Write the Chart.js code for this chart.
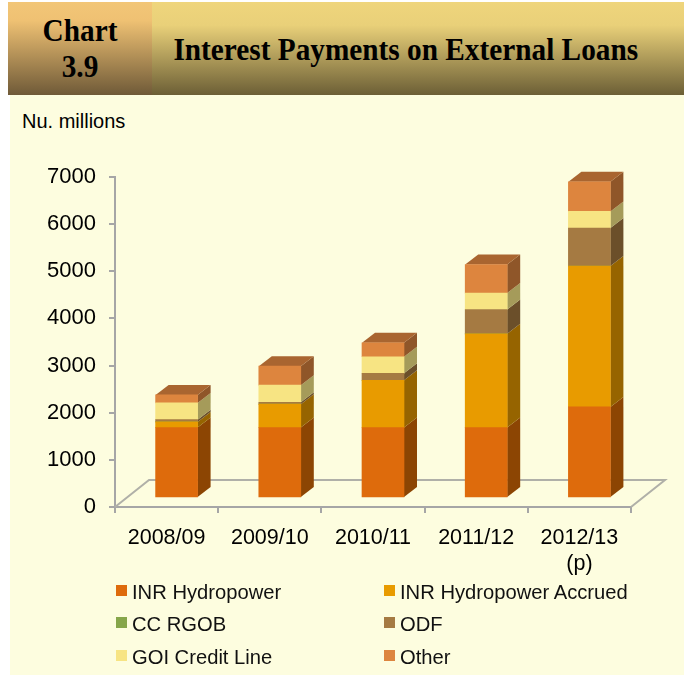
<!DOCTYPE html>
<html>
<head>
<meta charset="utf-8">
<script src="https://cdn.jsdelivr.net/npm/chart.js@4"></script>
<style>
  html, body { margin: 0; padding: 0; background: #fff; }
  #page { position: relative; width: 684px; height: 675px; overflow: hidden; }
  #panel { position: absolute; left: 10px; top: 95px; width: 674px; height: 580px; background: #fdfddf; }
  .head { position: absolute; top: 2px; height: 93px; color: #000; }
  .head span { position: absolute; left: 0; right: 0; text-align: center; font: bold 32px "Liberation Serif", serif; transform: scaleX(.915); white-space: nowrap; }
  #headNum { left: 8px; width: 144px; background: linear-gradient(#f2c677, #efc173 20%, #6f5a38); }
  #headTitle { left: 152px; width: 532px; background: linear-gradient(#efd57c, #e9d079 25%, #6c5f36); }
  #unit { position: absolute; left: 22px; top: 110px; font: 20px "Liberation Sans", sans-serif; color: #000; }
  #plot { position: absolute; left: 0; top: 0; }
  #legend div { position: absolute; font: 20.2px/22px "Liberation Sans", sans-serif; color: #111; white-space: nowrap; }
  #legend i { position: absolute; left: -16px; top: 4px; width: 11px; height: 11px; }
</style>
</head>
<body>
<div id="page">
  <div id="panel"></div>
  <div id="headNum" class="head">
    <span style="top:10px">Chart</span>
    <span style="top:46px">3.9</span>
  </div>
  <div id="headTitle" class="head">
    <span style="top:29px; right:28px">Interest Payments on External Loans</span>
  </div>
  <div id="unit">Nu. millions</div>
  <canvas id="plot" width="684" height="675"></canvas>
  <div id="legend"></div>
</div>
<script>
const categories = ['2008/09', '2009/10', '2010/11', '2011/12', ['2012/13', '(p)']];
const seriesNames = ['INR Hydropower', 'INR Hydropower Accrued', 'CC RGOB', 'ODF', 'GOI Credit Line', 'Other'];
const inrHydropower = [1493, 1493, 1493, 1493, 1932];
const inrAccrued = [121, 497, 1004, 1989, 2987];
const ccRgob = [0, 0, 0, 0, 0];
const odf = [48, 42, 148, 516, 807];
const goiCredit = [355, 361, 352, 348, 353];
const other = [170, 403, 297, 607, 630];
const seriesValues = [inrHydropower, inrAccrued, ccRgob, odf, goiCredit, other];
const yTicks = [0, 1000, 2000, 3000, 4000, 5000, 6000, 7000];

// front, side and top face colours per series
const frontColors = ['#de6b0c', '#e89b00', '#86a64a', '#a57a42', '#f7e483', '#dd853e'];
const sideColors = ['#8c4503', '#966400', '#566b2e', '#6b4f2a', '#a59b5a', '#8f5629'];
const topColor = '#a96530';

const depth = { x: 13, y: 10 };      // bar side/top skew
const floorDepth = { x: 34, y: 27 }; // floor skew
const barShift = { x: 10, y: -9 };   // bars stand in the middle of the floor

function poly(ctx, pts, fill) {
  ctx.beginPath();
  pts.forEach((p, i) => i ? ctx.lineTo(p[0], p[1]) : ctx.moveTo(p[0], p[1]));
  ctx.closePath();
  ctx.fillStyle = fill;
  ctx.fill();
}

const box3d = {
  id: 'box3d',
  beforeDatasetsDraw(chart) {
    const ctx = chart.ctx;
    const x = chart.scales.x, y = chart.scales.y;
    const y0 = y.getPixelForValue(0);

    // floor outline behind the bars
    ctx.save();
    ctx.strokeStyle = '#b0b0a8';
    ctx.lineWidth = 2;
    ctx.beginPath();
    ctx.moveTo(x.left, y0);
    ctx.lineTo(x.left + floorDepth.x, y0 - floorDepth.y);
    ctx.lineTo(x.right + floorDepth.x, y0 - floorDepth.y);
    ctx.lineTo(x.right, y0);
    ctx.stroke();
    ctx.restore();

    ctx.save();
    ctx.translate(barShift.x, barShift.y);
    chart.data.datasets.forEach((ds, d) => {
      chart.getDatasetMeta(d).data.forEach(bar => {
        const r = bar.x + bar.width / 2;
        const top = Math.min(bar.y, bar.base), bottom = Math.max(bar.y, bar.base);
        if (bottom - top < 0.5) return;
        poly(ctx, [[r, bottom], [r + depth.x, bottom - depth.y], [r + depth.x, top - depth.y], [r, top]], sideColors[d]);
      });
    });
    // the last series caps each column
    const last = chart.data.datasets.length - 1;
    chart.getDatasetMeta(last).data.forEach(bar => {
      const l = bar.x - bar.width / 2, r = bar.x + bar.width / 2;
      poly(ctx, [[l, bar.y], [l + depth.x, bar.y - depth.y], [r + depth.x, bar.y - depth.y], [r, bar.y]], topColor);
    });
  },
  afterDatasetsDraw(chart) {
    chart.ctx.restore();
  }
};

new Chart(document.getElementById('plot'), {
  type: 'bar',
  plugins: [box3d],
  data: {
    labels: categories,
    datasets: seriesNames.map((name, i) => ({
      label: name,
      data: seriesValues[i],
      backgroundColor: frontColors[i],
      borderWidth: 0,
      barThickness: 42
    }))
  },
  options: {
    responsive: false,
    animation: false,
    layout: { padding: { top: 177, right: 53, bottom: 0, left: 0 } },
    plugins: { legend: { display: false }, tooltip: { enabled: false } },
    scales: {
      x: {
        stacked: true,
        grid: { drawOnChartArea: false, color: '#a6a6a6', tickLength: 6, lineWidth: 2 },
        border: { color: '#a6a6a6', width: 2 },
        ticks: { color: '#000', font: { family: 'Liberation Sans', size: 21.5 }, maxRotation: 0, autoSkip: false, padding: 12 },
        afterFit(s) { s.height = 168; }
      },
      y: {
        stacked: true,
        min: 0,
        max: 7000,
        afterBuildTicks(s) { s.ticks = yTicks.map(v => ({ value: v })); },
        grid: { drawOnChartArea: false, color: '#a6a6a6', tickLength: 6, lineWidth: 2 },
        border: { color: '#a6a6a6', width: 2 },
        ticks: { color: '#000', font: { family: 'Liberation Sans', size: 22 }, padding: 13, callback: v => String(v) },
        afterFit(s) { s.width = 115; }
      }
    }
  }
});

// two column legend under the plot
const legend = document.getElementById('legend');
seriesNames.forEach((name, i) => {
  const item = document.createElement('div');
  item.style.left = (i % 2 ? 400 : 132) + 'px';
  item.style.top = (580.5 + Math.floor(i / 2) * 32.5) + 'px';
  item.innerHTML = '<i style="background:' + frontColors[i] + '"></i>' + name;
  legend.appendChild(item);
});
</script>
</body>
</html>
